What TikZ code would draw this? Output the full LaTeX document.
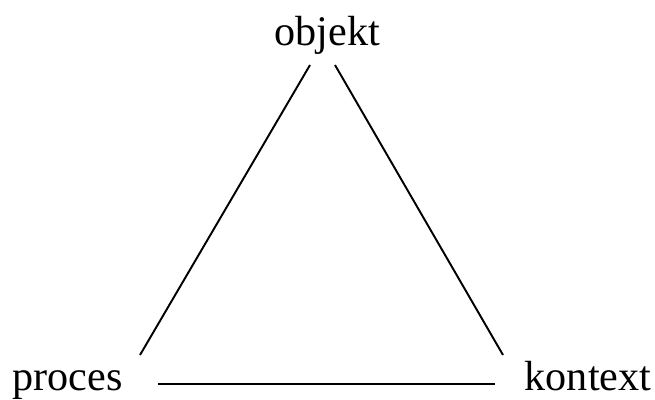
\documentclass[tikz,border=0pt]{standalone}
\usepackage{fontspec}
\setmainfont{Liberation Serif}
\usetikzlibrary{calc}

\begin{document}
\begin{tikzpicture}[
  x=0.02cm, y=-0.02cm,
  term/.style={inner sep=0pt, anchor=base, font=\fontsize{24}{28}\selectfont},
  edge/.style={line width=1.1pt, black}
]
  \useasboundingbox (0,0) rectangle (655,399);

  \node[term] (objekt) at (327.5,45) {objekt};
  \node[term] (proces) at (67.5,390) {proces};
  \node[term] (kontext) at (588,390) {kontext};

  \draw[edge] ($(proces.base)+(72.5,-35)$) -- ($(objekt.base)+(-17.5,20)$);
  \draw[edge] ($(objekt.base)+(7.5,20)$) -- ($(kontext.base)+(-85,-35)$);
  \draw[edge] ($(proces.base)+(90.5,-6)$) -- ($(kontext.base)+(-93,-6)$);
\end{tikzpicture}
\end{document}
